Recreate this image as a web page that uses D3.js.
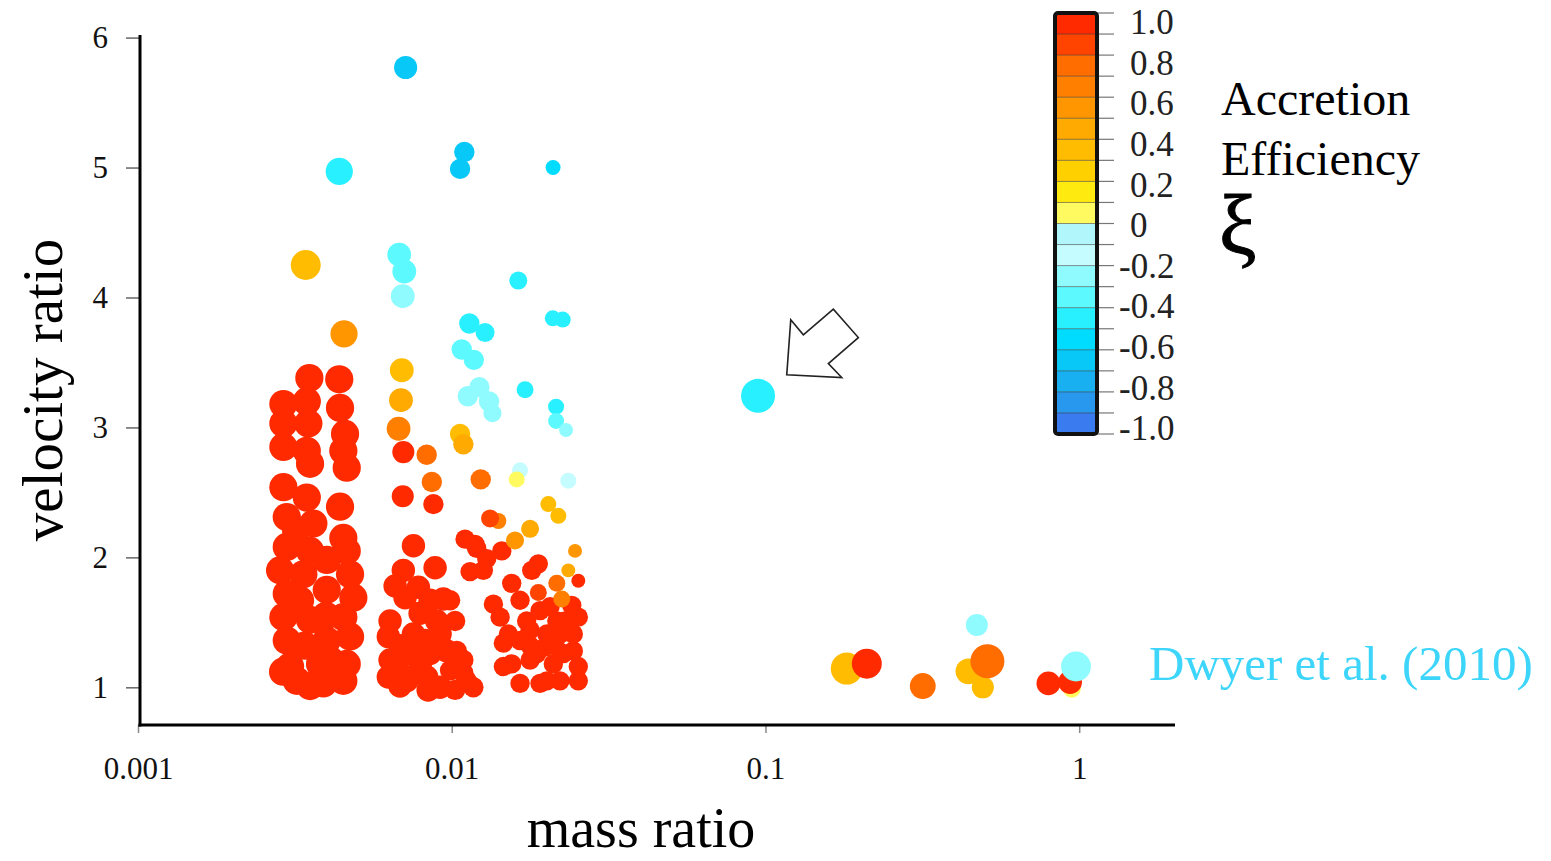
<!DOCTYPE html>
<html>
<head>
<meta charset="utf-8">
<script src="https://cdn.jsdelivr.net/npm/d3@7"></script>
<style>
  body { margin: 0; background: #fff; }
  svg { display: block; font-family: "Liberation Serif", "Times New Roman", serif; }
</style>
</head>
<body>
<div id="chart"></div>
<script>
// ---- data: [mass ratio, velocity ratio, accretion efficiency xi, dot size] ----
const clusterA = [
  [0.003517, 3.38, 0.95, 8.3], [0.00438, 3.37, 0.95, 8.3], [0.002907, 3.18, 0.95, 8.3], [0.003451, 3.20, 0.95, 8.3],
  [0.004405, 3.15, 0.95, 8.3], [0.002907, 3.03, 0.95, 8.3], [0.003491, 3.03, 0.95, 8.3], [0.00457, 2.95, 0.95, 8.3],
  [0.002907, 2.85, 0.95, 8.3], [0.003451, 2.82, 0.95, 8.3], [0.004513, 2.82, 0.95, 8.3], [0.003535, 2.72, 0.95, 8.3],
  [0.004627, 2.69, 0.95, 8.3], [0.002907, 2.54, 0.95, 8.3], [0.003451, 2.46, 0.95, 8.3], [0.004405, 2.39, 0.95, 8.3],
  [0.00298, 2.31, 0.95, 8.3], [0.003622, 2.26, 0.95, 8.3], [0.004513, 2.15, 0.95, 8.3], [0.00298, 2.08, 0.95, 8.3],
  [0.003535, 2.05, 0.95, 8.3], [0.004627, 2.05, 0.95, 8.3], [0.002837, 1.90, 0.95, 8.3], [0.003366, 1.87, 0.95, 8.3],
  [0.003996, 1.98, 0.95, 8.3], [0.004741, 1.87, 0.95, 8.3], [0.00298, 1.72, 0.95, 8.3], [0.003996, 1.75, 0.95, 8.3],
  [0.004857, 1.69, 0.95, 8.3], [0.002907, 1.54, 0.95, 8.3], [0.003535, 1.52, 0.95, 8.3], [0.004513, 1.54, 0.95, 8.3],
  [0.00298, 1.36, 0.95, 8.3], [0.003996, 1.36, 0.95, 8.3], [0.004741, 1.39, 0.95, 8.3], [0.003052, 1.16, 0.95, 8.3],
  [0.003804, 1.18, 0.95, 8.3], [0.004627, 1.18, 0.95, 8.3], [0.003206, 1.05, 0.95, 8.3], [0.004513, 1.05, 0.95, 8.3],
  [0.003897, 1.03, 0.95, 8.3], [0.003285, 1.67, 0.95, 8.3], [0.003974, 1.55, 0.95, 8.3], [0.003399, 1.32, 0.95, 8.3],
  [0.004093, 1.21, 0.95, 8.3], [0.003535, 1.01, 0.95, 8.3], [0.00290, 1.12, 0.95, 8.3], [0.00319, 2.21, 0.95, 8.3]
];

const clusterB = [
  [0.00755, 2.09, 0.95, 6.9], [0.00885, 1.92, 0.95, 6.9], [0.00701, 1.90, 0.95, 6.9], [0.00783, 1.77, 0.95, 6.9],
  [0.0094, 1.68, 0.95, 6.9], [0.0071, 1.69, 0.95, 6.9], [0.00853, 1.67, 0.95, 6.9], [0.00636, 1.51, 0.95, 6.9],
  [0.00793, 1.57, 0.95, 6.9], [0.00896, 1.51, 0.95, 6.9], [0.00628, 1.39, 0.95, 6.9], [0.00755, 1.41, 0.95, 6.9],
  [0.00918, 1.41, 0.95, 6.9], [0.00636, 1.21, 0.95, 6.9], [0.00737, 1.26, 0.95, 6.9], [0.00853, 1.26, 0.95, 6.9],
  [0.00964, 1.28, 0.95, 6.9], [0.00628, 1.08, 0.95, 6.9], [0.00719, 1.05, 0.95, 6.9], [0.00832, 1.08, 0.95, 6.9],
  [0.00918, 1.00, 0.95, 6.9], [0.00684, 1.01, 0.95, 6.9], [0.0066, 1.78, 0.95, 6.9], [0.00823, 1.36, 0.95, 6.9],
  [0.00684, 1.32, 0.95, 6.9], [0.00793, 1.17, 0.95, 6.9], [0.00674, 1.13, 0.95, 6.9], [0.00841, 0.98, 0.95, 6.9],
  [0.00988, 1.67, 0.95, 6.0], [0.01038, 1.28, 0.95, 6.0], [0.01025, 1.51, 0.95, 6.0], [0.00988, 1.13, 0.95, 6.0],
  [0.01025, 0.98, 0.95, 6.0], [0.01089, 1.11, 0.95, 6.0], [0.01172, 1.00, 0.95, 6.0], [0.01089, 1.21, 0.95, 6.0],
  [0.01116, 1.05, 0.95, 6.0]
];

const clusterC = [
  [0.01103, 2.14, 0.95, 5.7], [0.01201, 2.07, 0.95, 5.7], [0.01444, 2.05, 0.95, 5.7], [0.01293, 1.99, 0.95, 5.7],
  [0.01144, 1.89, 0.95, 5.7], [0.01261, 1.90, 0.95, 5.7], [0.01888, 1.95, 0.95, 5.7], [0.01799, 1.90, 0.95, 5.7],
  [0.01553, 1.80, 0.95, 5.7], [0.01358, 1.64, 0.95, 5.7], [0.01651, 1.67, 0.95, 5.7], [0.02058, 1.62, 0.95, 5.7],
  [0.02413, 1.63, 0.95, 5.7], [0.02532, 1.54, 0.95, 5.7], [0.01426, 1.54, 0.95, 5.7], [0.01733, 1.51, 0.95, 5.7],
  [0.01516, 1.41, 0.95, 5.7], [0.01777, 1.44, 0.95, 5.7], [0.02214, 1.41, 0.95, 5.7], [0.02009, 1.41, 0.95, 5.7],
  [0.01461, 1.34, 0.95, 5.7], [0.01983, 1.31, 0.95, 5.7], [0.02441, 1.28, 0.95, 5.7], [0.01553, 1.18, 0.95, 5.7],
  [0.01777, 1.21, 0.95, 5.7], [0.02108, 1.18, 0.95, 5.7], [0.02532, 1.16, 0.95, 5.7], [0.01651, 1.03, 0.95, 5.7],
  [0.01912, 1.03, 0.95, 5.7], [0.02214, 1.05, 0.95, 5.7], [0.02532, 1.05, 0.95, 5.7], [0.01867, 1.26, 0.95, 5.7],
  [0.02268, 1.26, 0.95, 5.7], [0.01912, 1.59, 0.95, 5.7], [0.02162, 1.51, 0.95, 5.7], [0.01461, 1.16, 0.95, 5.7],
  [0.02009, 1.05, 0.95, 5.7], [0.02441, 1.41, 0.95, 5.7], [0.01187, 2.10, 0.95, 5.7], [0.01651, 1.36, 0.95, 5.7],
  [0.02297, 1.51, 0.95, 5.7], [0.01777, 1.32, 0.95, 5.7], [0.02136, 1.32, 0.95, 5.7]
];

const scattered = [
  [0.00713, 5.77, -0.62, 6.8], [0.00438, 4.97, -0.45, 8], [0.01097, 5.12, -0.62, 6], [0.01063, 4.99, -0.62, 6],
  [0.02104, 5.00, -0.55, 4.4], [0.003425, 4.25, 0.35, 8.8], [0.0068, 4.33, -0.35, 7], [0.00706, 4.20, -0.32, 7],
  [0.00698, 4.01, -0.25, 7], [0.0163, 4.13, -0.45, 5.3], [0.004536, 3.72, 0.55, 8], [0.01138, 3.80, -0.42, 6],
  [0.01277, 3.73, -0.42, 5.6], [0.01076, 3.60, -0.32, 6], [0.01176, 3.52, -0.32, 6], [0.02099, 3.84, -0.42, 4.7],
  [0.02258, 3.83, -0.42, 4.7], [0.00693, 3.44, 0.35, 7], [0.00689, 3.21, 0.45, 7], [0.00677, 2.99, 0.65, 7],
  [0.01225, 3.31, -0.25, 6], [0.01125, 3.24, -0.22, 6], [0.01315, 3.20, -0.22, 6], [0.01348, 3.11, -0.22, 5.3],
  [0.01713, 3.29, -0.42, 5], [0.02151, 3.16, -0.42, 4.7], [0.02151, 3.05, -0.32, 4.7], [0.02314, 2.98, -0.25, 4.1],
  [0.01063, 2.95, 0.35, 6], [0.01089, 2.87, 0.45, 6], [0.00701, 2.81, 0.92, 6.5], [0.00832, 2.79, 0.75, 6],
  [0.00864, 2.58, 0.75, 6], [0.00698, 2.47, 0.95, 6.5], [0.00874, 2.41, 0.95, 6], [0.01237, 2.60, 0.72, 6],
  [0.01651, 2.67, -0.15, 4.7], [0.01611, 2.60, 0.05, 4.7], [0.02353, 2.59, -0.15, 4.7], [0.02032, 2.41, 0.35, 4.7],
  [0.02187, 2.32, 0.35, 4.7], [0.01408, 2.28, 0.65, 4.7], [0.01325, 2.30, 0.85, 5.3], [0.01777, 2.22, 0.45, 5.3],
  [0.01591, 2.13, 0.55, 5.3], [0.02472, 2.05, 0.55, 4.1], [0.02353, 1.90, 0.45, 4.1], [0.02532, 1.82, 0.95, 4.1],
  [0.02162, 1.80, 0.75, 5], [0.01888, 1.73, 0.82, 5], [0.02242, 1.68, 0.65, 5]
];

const highlighted = [[0.0947, 3.243, -0.45, 10]];

const dwyer = [
  [0.1816, 1.144, 0.35, 9.4], [0.2104, 1.182, 0.95, 8.8], [0.3172, 1.01, 0.75, 7.6], [0.4718, 1.48, -0.3, 6.5],
  [0.4436, 1.123, 0.35, 7.6], [0.493, 1.00, 0.35, 6.5], [0.5098, 1.20, 0.72, 10], [0.7977, 1.03, 0.95, 7],
  [0.9471, 0.99, 0.05, 5.3], [0.9354, 1.04, 0.95, 7], [0.9768, 1.16, -0.25, 8.8]
];

const xTicks = [0.001, 0.01, 0.1, 1];
const xTickLabels = ["0.001", "0.01", "0.1", "1"];
const yTicks = [1, 2, 3, 4, 5, 6];
const cbTicks = [1.0, 0.8, 0.6, 0.4, 0.2, 0, -0.2, -0.4, -0.6, -0.8, -1.0];
const cbTickLabels = ["1.0", "0.8", "0.6", "0.4", "0.2", "0", "-0.2", "-0.4", "-0.6", "-0.8", "-1.0"];
// colour bands from -1 up to 1, 0.1 each
const bandColors = [
  "#3a7cf0", "#2898ee", "#18b0f0", "#08c8f8", "#00dcff", "#28f0ff", "#5cfaff", "#90fbff", "#c4fcff", "#b0f6fa",
  "#fffa60", "#ffea10", "#ffd000", "#ffbc00", "#ffaa00", "#ff9600", "#ff8000", "#ff6c00", "#ff4400", "#ff2a00"
];

const width = 1551, height = 861;
const serif = '"Liberation Serif", "Times New Roman", serif';

const svg = d3.select("#chart").append("svg")
  .attr("width", width)
  .attr("height", height);

const xScale = d3.scaleLog().domain([0.001, 2.02]).range([138, 1175]);
const yScale = d3.scaleLinear().domain([0.71, 6.02]).range([725, 35]);
const rScale = d3.scaleLinear().domain([0, 10]).range([0, 17]);
const colorScale = d3.scaleQuantize().domain([-1, 1]).range(bandColors);

// axes
const yAxis = d3.axisLeft(yScale)
  .tickValues(yTicks)
  .tickFormat(d3.format("d"))
  .tickSize(14)
  .tickPadding(18);

svg.append("g")
  .attr("transform", "translate(140,0)")
  .call(yAxis)
  .attr("font-family", serif)
  .attr("font-size", 31)
  .call(g => g.select(".domain").remove())
  .call(g => g.selectAll(".tick line").attr("stroke", "#666").attr("stroke-width", 1.5))
  .call(g => g.selectAll(".tick text").attr("fill", "#111"));

const xAxis = d3.axisBottom(xScale)
  .tickValues(xTicks)
  .tickFormat((d, i) => xTickLabels[i])
  .tickSize(8)
  .tickPadding(24);

svg.append("g")
  .attr("transform", "translate(0,725)")
  .call(xAxis)
  .attr("font-family", serif)
  .attr("font-size", 31)
  .call(g => g.select(".domain").remove())
  .call(g => g.selectAll(".tick line").attr("stroke", "#888").attr("stroke-width", 1.5))
  .call(g => g.selectAll(".tick text").attr("fill", "#111"));

svg.append("line")
  .attr("x1", 140).attr("x2", 140)
  .attr("y1", yScale(6.02)).attr("y2", 726.5)
  .attr("stroke", "#000").attr("stroke-width", 3);

svg.append("line")
  .attr("x1", 138.5).attr("x2", xScale(2.02))
  .attr("y1", 725).attr("y2", 725)
  .attr("stroke", "#000").attr("stroke-width", 3);

// axis titles
svg.append("text")
  .attr("transform", "translate(62,390) rotate(-90)")
  .attr("text-anchor", "middle")
  .attr("font-family", serif)
  .attr("font-size", 57)
  .attr("fill", "#000")
  .text("velocity ratio");

svg.append("text")
  .attr("x", 641).attr("y", 847)
  .attr("text-anchor", "middle")
  .attr("font-family", serif)
  .attr("font-size", 56)
  .attr("fill", "#000")
  .text("mass ratio");

// points
const allPoints = [...clusterA, ...clusterB, ...clusterC, ...scattered, ...highlighted, ...dwyer];

svg.append("g")
  .selectAll("circle")
  .data(allPoints)
  .join("circle")
    .attr("cx", d => xScale(d[0]))
    .attr("cy", d => yScale(d[1]))
    .attr("r", d => rScale(d[3]))
    .attr("fill", d => colorScale(d[2]));

// arrow pointing at the highlighted point
const hp = highlighted[0];
const ax = xScale(hp[0]), ay = yScale(hp[1]);
const arrowShape = [[32.7, -76], [45.3, -61], [75.3, -86.7], [100.3, -58.3], [70.3, -32.3], [83.7, -18.3], [28.7, -21]];
svg.append("polygon")
  .attr("points", arrowShape.map(p => [ax + p[0], ay + p[1]].join(",")).join(" "))
  .attr("fill", "#fff")
  .attr("stroke", "#222")
  .attr("stroke-width", 1.6)
  .attr("stroke-linejoin", "miter");

// Dwyer label
svg.append("text")
  .attr("x", 1149).attr("y", 680)
  .attr("font-family", serif)
  .attr("font-size", 49)
  .attr("fill", "#3dd5fa")
  .text("Dwyer et al. (2010)");

// colour bar
const cbX = 1055, cbW = 42;
const cbScale = d3.scaleLinear().domain([-1, 1]).range([434, 13]);
const cbLabelScale = d3.scaleLinear().domain([-1, 1]).range([428, 22]);
const cb = svg.append("g");

cb.selectAll("rect.band")
  .data(colorScale.range())
  .join("rect")
    .attr("class", "band")
    .attr("x", cbX)
    .attr("width", cbW)
    .attr("y", c => cbScale(colorScale.invertExtent(c)[1]))
    .attr("height", c => cbScale(colorScale.invertExtent(c)[0]) - cbScale(colorScale.invertExtent(c)[1]))
    .attr("fill", c => c);

const boundaries = d3.range(21).map(i => -1 + i * 0.1);
cb.selectAll("line.sep")
  .data(boundaries)
  .join("line")
    .attr("class", "sep")
    .attr("x1", cbX).attr("x2", cbX + cbW)
    .attr("y1", d => cbScale(d)).attr("y2", d => cbScale(d))
    .attr("stroke", "#333").attr("stroke-opacity", 0.55).attr("stroke-width", 1);

cb.selectAll("line.tick")
  .data(boundaries)
  .join("line")
    .attr("class", "tick")
    .attr("x1", cbX + cbW).attr("x2", cbX + cbW + 17)
    .attr("y1", d => cbScale(d)).attr("y2", d => cbScale(d))
    .attr("stroke", "#777").attr("stroke-width", 1.2);

cb.append("rect")
  .attr("x", cbX).attr("y", cbScale(1))
  .attr("width", cbW).attr("height", cbScale(-1) - cbScale(1))
  .attr("rx", 3)
  .attr("fill", "none")
  .attr("stroke", "#111")
  .attr("stroke-width", 4);

cb.selectAll("text.cbl")
  .data(cbTicks)
  .join("text")
    .attr("class", "cbl")
    .attr("x", d => d < 0 ? 1119 : 1130)
    .attr("y", d => cbLabelScale(d))
    .attr("dy", "0.35em")
    .attr("font-family", serif)
    .attr("font-size", 35)
    .attr("fill", "#222")
    .text((d, i) => cbTickLabels[i]);

// colour bar title
const title = svg.append("g").attr("font-family", serif).attr("fill", "#000");
title.append("text").attr("x", 1221).attr("y", 115).attr("font-size", 48).text("Accretion");
title.append("text").attr("x", 1221).attr("y", 175).attr("font-size", 48).text("Efficiency");
title.append("text").attr("x", 1219).attr("y", 254).attr("font-size", 84)
  .attr("stroke", "#000").attr("stroke-width", 1).text("ξ");
</script>
</body>
</html>
